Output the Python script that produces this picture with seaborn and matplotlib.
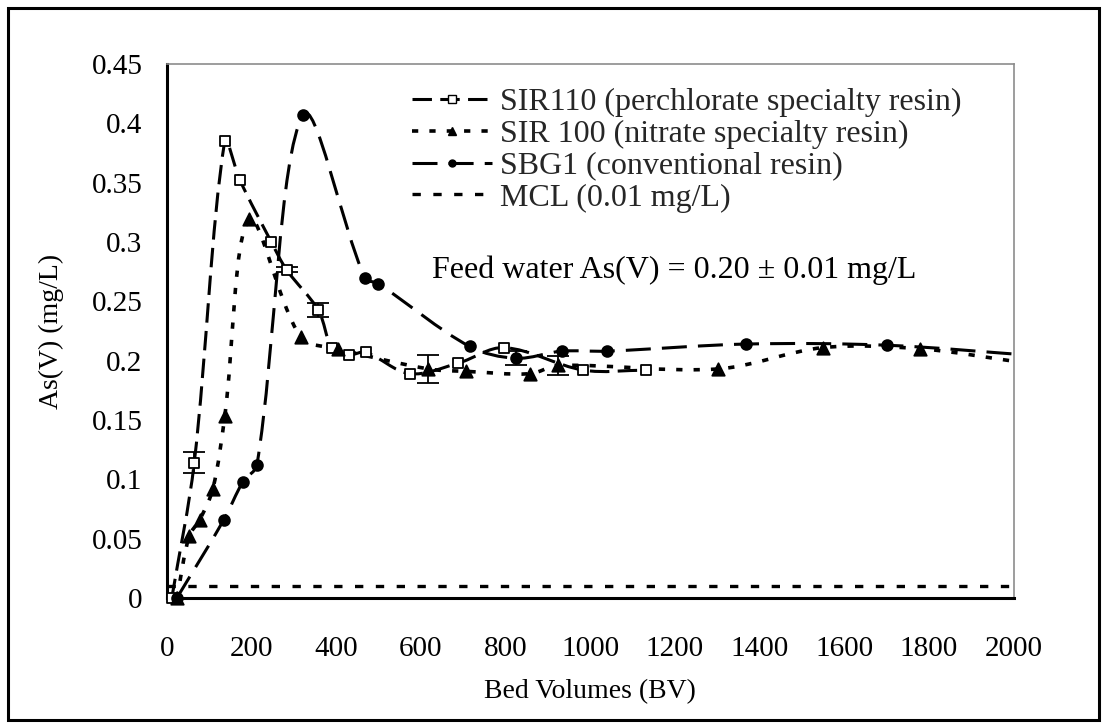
import numpy as np
import pandas as pd
import matplotlib
matplotlib.use("Agg")
import matplotlib.pyplot as plt
from matplotlib.path import Path
from matplotlib.patches import PathPatch, Rectangle
from matplotlib.lines import Line2D
from matplotlib.ticker import MultipleLocator, FuncFormatter
import seaborn as sns

# Effluent As(V) concentration versus bed volumes for three resins
sir110_bv = [12, 65, 137, 173, 247, 283, 358, 391, 431, 470, 574, 689, 797, 984, 1131]
sir110_as = [0.0, 0.114, 0.385, 0.352, 0.300, 0.2766, 0.2425, 0.2105, 0.205, 0.207,
             0.189, 0.198, 0.211, 0.192, 0.192]
sir110_err = [0, 0.009, 0, 0, 0, 0.002, 0.006, 0, 0, 0, 0, 0, 0, 0, 0]

sir100_bv = [24, 53, 78, 109, 137, 195, 316, 404, 618, 707, 858, 925, 1302, 1550, 1779, 2030]
sir100_as = [0.0, 0.052, 0.066, 0.092, 0.153, 0.319, 0.220, 0.210, 0.193, 0.191, 0.189,
             0.196, 0.193, 0.211, 0.210, 0.198]
sir100_err = [0, 0, 0, 0, 0, 0, 0, 0, 0.012, 0, 0, 0.008, 0, 0, 0, 0]

sbg1_bv = [24, 135, 180, 213, 322, 468, 499, 715, 825, 933, 1040, 1369, 1700, 2060]
sbg1_as = [0.0, 0.066, 0.098, 0.112, 0.407, 0.2695, 0.265, 0.212, 0.202, 0.208, 0.208,
           0.214, 0.213, 0.204]
sbg1_err = [0, 0, 0, 0, 0, 0, 0, 0, 0.006, 0, 0, 0, 0, 0]

mcl_bv = [0, 2000]
mcl_as = [0.01, 0.01]

labels = ["SIR110 (perchlorate specialty resin)",
          "SIR 100 (nitrate specialty resin)",
          "SBG1 (conventional resin)",
          "MCL (0.01 mg/L)"]
feed_note = "Feed water As(V) = 0.20 \u00b1 0.01 mg/L"

sns.set_theme(style="white")
plt.rcParams["font.family"] = ["Liberation Serif", "DejaVu Serif"]
plt.rcParams["lines.scale_dashes"] = False

TICK_FS = 21
LABEL_FS = 20
LEGEND_FS = 23

fig = plt.figure(figsize=(11.07, 7.28), dpi=100)
fig.patch.set_facecolor("white")
ax = fig.add_axes([0.1506, 0.1786, 0.7651, 0.7335])
ax.set_xlim(0, 2000)
ax.set_ylim(0, 0.45)


def smooth_path(xs, ys):
    """Smoothed line through the points: cubic Bezier segments whose tangents
    are weighted by neighbouring segment lengths measured on screen."""
    pts = np.column_stack([xs, ys]).astype(float)
    scr = ax.transData.transform(pts)
    n = len(pts)

    def seglen(i, j):
        return float(np.hypot(*(scr[j] - scr[i])))

    verts = [pts[0]]
    codes = [Path.MOVETO]
    for i in range(n - 1):
        i0 = max(i - 1, 0)
        i3 = min(i + 2, n - 1)
        d01 = seglen(i0, i)
        d12 = seglen(i, i + 1)
        d23 = seglen(i + 1, i3)
        w1 = d12 / (d01 + d12) if d01 + d12 > 0 else 0.5
        w2 = d12 / (d12 + d23) if d12 + d23 > 0 else 0.5
        c1 = pts[i] + (pts[i + 1] - pts[i0]) * w1 / 3.0
        c2 = pts[i + 1] - (pts[i3] - pts[i]) * w2 / 3.0
        verts += [c1, c2, pts[i + 1]]
        codes += [Path.CURVE4] * 3
    return Path(verts, codes)


series = [
    dict(x=sir110_bv, y=sir110_as, e=sir110_err, ls=(0, (14, 6)), lw=2.2,
         marker="s", s=50, fc="white", msl=6),
    dict(x=sir100_bv, y=sir100_as, e=sir100_err, ls=(0, (4.5, 8)), lw=2.6,
         marker="^", s=80, fc="black", msl=6),
    dict(x=sbg1_bv, y=sbg1_as, e=sbg1_err, ls=(0, (18, 8)), lw=2.2,
         marker="o", s=60, fc="black", msl=5),
]

for sd in series:
    patch = PathPatch(smooth_path(sd["x"], sd["y"]), fill=False, edgecolor="black",
                      linewidth=sd["lw"], linestyle=sd["ls"], capstyle="butt",
                      transform=ax.transData, zorder=2)
    ax.add_patch(patch)
    df = pd.DataFrame({"bv": sd["x"], "as": sd["y"], "err": sd["e"]})
    shown = df[df["bv"] <= 2000]
    sns.scatterplot(data=shown, x="bv", y="as", marker=sd["marker"], s=sd["s"],
                    color=sd["fc"], edgecolor="black", linewidth=1.3, ax=ax,
                    zorder=4, clip_on=False, legend=False)
    eb = df[df["err"] > 0]
    if len(eb):
        ax.errorbar(eb["bv"], eb["as"], yerr=eb["err"], fmt="none", ecolor="black",
                    elinewidth=1.3, capsize=8, capthick=1.3, zorder=3)

sns.lineplot(x=mcl_bv, y=mcl_as, ax=ax, color="black", linewidth=2.4,
             linestyle=(0, (6, 9)), zorder=2, legend=False)

ax.set_xlim(0, 2000)
ax.set_ylim(0, 0.45)
ax.xaxis.set_major_locator(MultipleLocator(200))
ax.xaxis.set_minor_locator(MultipleLocator(50))
ax.yaxis.set_major_locator(MultipleLocator(0.05))
ax.yaxis.set_minor_locator(MultipleLocator(0.01))
ax.yaxis.set_major_formatter(FuncFormatter(lambda v, p: f"{round(v, 2):g}"))
ax.xaxis.set_major_formatter(FuncFormatter(lambda v, p: f"{int(round(v))}"))

for side in ("left", "bottom"):
    ax.spines[side].set_color("black")
    ax.spines[side].set_linewidth(2.2)
for side in ("top", "right"):
    ax.spines[side].set_color("#8c8c8c")
    ax.spines[side].set_linewidth(1.2)

ax.tick_params(axis="both", which="major", direction="inout", length=15, width=2.0,
               color="black", labelsize=TICK_FS, labelcolor="black")
ax.tick_params(axis="both", which="minor", direction="out", length=7, width=2.0,
               color="black")
ax.tick_params(axis="x", which="major", pad=20)
ax.tick_params(axis="y", which="major", pad=10)
ax.tick_params(top=False, right=False, which="both")

ax.set_xlabel("Bed Volumes (BV)", fontsize=LABEL_FS, color="black", labelpad=12)
ax.set_ylabel("As(V) (mg/L)", fontsize=LABEL_FS, color="black", labelpad=20)

ax.text(0.313, 0.614, feed_note, transform=ax.transAxes, fontsize=LEGEND_FS,
        ha="left", va="center", color="black")

handles = []
for sd in series:
    handles.append(Line2D([], [], color="black", linewidth=sd["lw"], linestyle=sd["ls"],
                          marker=sd["marker"], markersize=sd["msl"],
                          markerfacecolor=sd["fc"], markeredgecolor="black",
                          markeredgewidth=1.0))
handles.append(Line2D([], [], color="black", linewidth=2.4, linestyle=(0, (6, 9))))
ax.legend(handles, labels, loc="upper left", bbox_to_anchor=(0.2896, 0.956),
          frameon=False, fontsize=LEGEND_FS, handlelength=2.5, handletextpad=0.25,
          labelspacing=0.08, borderpad=0, borderaxespad=0, numpoints=1)

# border around the whole figure
fig.patches.append(Rectangle((8 / 1107, 8 / 728), 1091 / 1107, 712 / 728,
                             transform=fig.transFigure, fill=False,
                             edgecolor="black", linewidth=2.2, zorder=10))

fig.savefig("out.png", dpi=100, facecolor="white")
